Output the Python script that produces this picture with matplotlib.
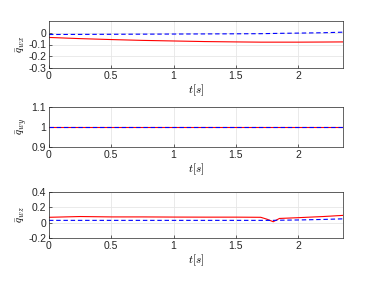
import numpy as np
import matplotlib.pyplot as plt

# time samples (s)
t = [0, 0.25, 0.5, 0.75, 1.0, 1.25, 1.5, 1.7, 1.75, 1.8, 1.85, 2.0, 2.2, 2.36]

# quaternion components: estimate (red) and reference (blue dashed)
qwx_est = [-0.04, -0.05, -0.058, -0.065, -0.07, -0.075, -0.078, -0.08, -0.08, -0.08, -0.08, -0.08, -0.079, -0.078]
qwx_ref = [-0.015, -0.014, -0.013, -0.012, -0.011, -0.01, -0.009, -0.008, -0.007, -0.006, -0.005, -0.003, 0.0, 0.005]
qwy_est = [1.0] * len(t)
qwy_ref = [1.0] * len(t)
qwz_est = [0.07, 0.08, 0.075, 0.075, 0.073, 0.072, 0.072, 0.07, 0.045, 0.012, 0.055, 0.065, 0.08, 0.095]
qwz_ref = [0.03, 0.03, 0.03, 0.03, 0.03, 0.03, 0.03, 0.03, 0.03, 0.03, 0.032, 0.035, 0.042, 0.05]

ylabels = [r'$\bar{q}_{wx}$', r'$\bar{q}_{wy}$', r'$\bar{q}_{wz}$']
ylims = [(-0.3, 0.1), (0.9, 1.1), (-0.2, 0.4)]
yticks = [[-0.3, -0.2, -0.1, 0], [0.9, 1, 1.1], [-0.2, 0, 0.2, 0.4]]
ytick_labels = [['-0.3', '-0.2', '-0.1', '0'], ['0.9', '1', '1.1'], ['-0.2', '0', '0.2', '0.4']]
xticks = [0, 0.5, 1, 1.5, 2]
xtick_labels = ['0', '0.5', '1', '1.5', '2']

plt.rcParams['font.family'] = 'Liberation Sans'
plt.rcParams['mathtext.fontset'] = 'cm'

fig = plt.figure(figsize=(3.79, 2.85), dpi=100)
W, H = 379, 285
boxes = [(21, 68), (107, 147), (192, 238)]
series = [(qwx_est, qwx_ref), (qwy_est, qwy_ref), (qwz_est, qwz_ref)]

for i, (top, bot) in enumerate(boxes):
    ax = fig.add_axes([49 / W, 1 - bot / H, (343 - 49) / W, (bot - top) / H])
    est, ref = series[i]
    ax.plot(t, est, color='red', lw=0.8)
    ax.plot(t, ref, color='blue', lw=0.8, ls='--', dashes=(4, 2.5))
    ax.set_xlim(0, 2.36)
    ax.set_ylim(*ylims[i])
    ax.set_xticks(xticks)
    ax.set_xticklabels(xtick_labels)
    ax.set_yticks(yticks[i])
    ax.set_yticklabels(ytick_labels[i])
    ax.grid(True, color='#e6e6e6', lw=0.6)
    ax.set_axisbelow(True)
    ax.tick_params(labelsize=7.5, length=2, width=0.5, direction='in', pad=2, colors='#262626')
    for s in ax.spines.values():
        s.set_linewidth(0.5)
        s.set_color('#262626')
    ax.set_ylabel(ylabels[i], fontsize=8, labelpad=1)
    ax.set_xlabel(r'$t[s]$', fontsize=8, labelpad=1)

fig.savefig('out.png', dpi=100)
